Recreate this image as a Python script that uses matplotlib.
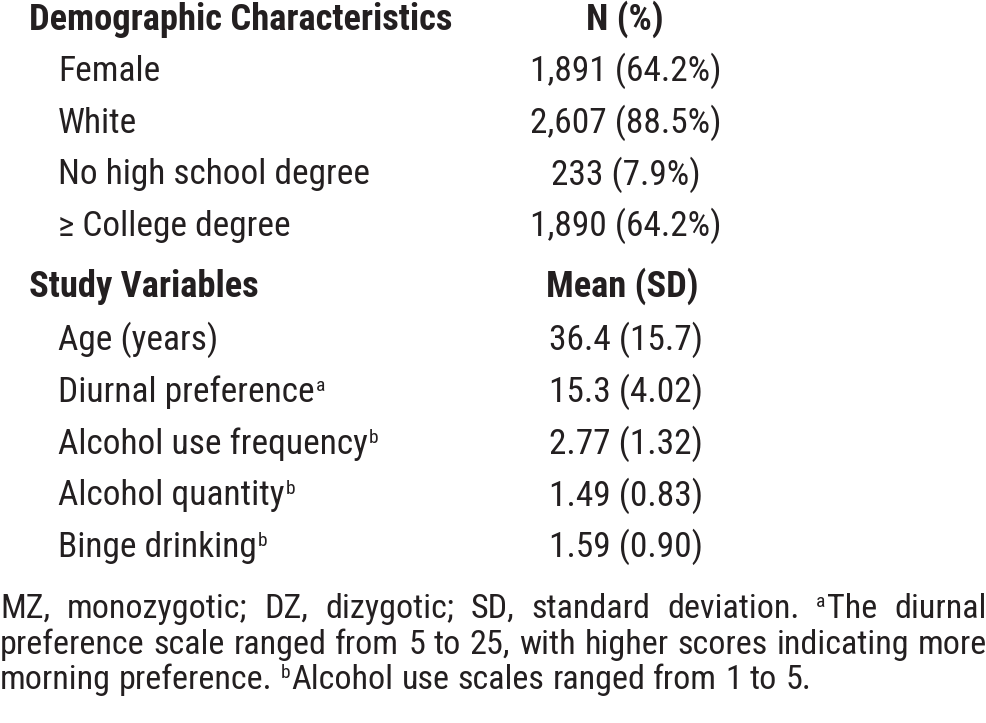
import matplotlib
matplotlib.use('Agg')
import matplotlib.pyplot as plt
from matplotlib import font_manager

W, H = 987, 723
INK = '#231f20'

# narrow grotesque, closest to the Arial Narrow of the original
FONT = 'Liberation Sans'
for name in ['Arial Narrow', 'Liberation Sans Narrow', 'Roboto Condensed']:
    try:
        font_manager.findfont(name, fallback_to_default=False)
        FONT = name
        break
    except ValueError:
        pass

# table content
demo_header = ['Demographic Characteristics', 'N (%)']
demo_labels = ['Female', 'White', 'No high school degree', '≥ College degree']
demo_values = ['1,891 (64.2%)', '2,607 (88.5%)', '233 (7.9%)', '1,890 (64.2%)']

study_header = ['Study Variables', 'Mean (SD)']
study_labels = ['Age (years)', 'Diurnal preference', 'Alcohol use frequency',
                'Alcohol quantity', 'Binge drinking']
study_notes = ['', 'a', 'b', 'b', 'b']
study_values = ['36.4 (15.7)', '15.3 (4.02)', '2.77 (1.32)', '1.49 (0.83)', '1.59 (0.90)']

# '^x' marks a superscript prefix on a word
footnote_lines = [
    'MZ, monozygotic; DZ, dizygotic; SD, standard deviation. ^aThe diurnal',
    'preference scale ranged from 5 to 25, with higher scores indicating more',
    'morning preference. ^bAlcohol use scales ranged from 1 to 5.',
]

FS = 25.5
BOLD_FS = 26.3
SUP = 14
FOOT_FS = 24.6

fig = plt.figure(figsize=(W / 100, H / 100), dpi=100)
fig.patch.set_facecolor('white')
renderer = fig.canvas.get_renderer()


def put(x, ybase, s, size=FS, weight='normal', ha='left'):
    # x, ybase in pixels from the top-left corner, ybase is the baseline
    t = fig.text(x / W, 1 - ybase / H, s, fontsize=size, fontweight=weight,
                 family=FONT, color=INK, ha=ha, va='baseline')
    bb = t.get_window_extent(renderer)
    return bb.x1


def put_sup(x, ybase, s, size=SUP):
    return put(x + 1, ybase - 11, s, size=size)


def measure(word, size):
    t = fig.text(0, 0, word, fontsize=size, family=FONT)
    w = t.get_window_extent(renderer).width
    t.remove()
    return w


col_label = 29
col_item = 58
col_value = 626

# demographic block
put(col_label, 30, demo_header[0], size=BOLD_FS, weight='bold')
put(col_value - 1, 30, demo_header[1], size=BOLD_FS, weight='bold', ha='center')
for i, (lab, val) in enumerate(zip(demo_labels, demo_values)):
    yb = 81 + i * 51.7
    put(col_item, yb, lab)
    put(col_value, yb, val, ha='center')

# study variables block
put(col_label, 297, study_header[0], size=BOLD_FS, weight='bold')
put(col_value - 4, 297, study_header[1], size=BOLD_FS, weight='bold', ha='center')
for i, (lab, note, val) in enumerate(zip(study_labels, study_notes, study_values)):
    yb = 350 + i * 51.8
    x1 = put(col_item, yb, lab)
    if note:
        put_sup(x1, yb, note)
    put(col_value, yb, val, ha='center')

# footnote, justified on all but the last line
foot_base = [618, 654, 689]
left, right = 0, W
space = measure('a a', FOOT_FS) - 2 * measure('a', FOOT_FS)
for li, line in enumerate(footnote_lines):
    words = line.split(' ')
    widths = []
    for w in words:
        if w.startswith('^'):
            widths.append(measure(w[1], SUP) + 2 + measure(w[2:], FOOT_FS))
        else:
            widths.append(measure(w, FOOT_FS))
    if li < len(footnote_lines) - 1:
        gap = (right - left - sum(widths)) / (len(words) - 1)
    else:
        gap = space
    x = left
    for w, wd in zip(words, widths):
        if w.startswith('^'):
            xs = put_sup(x - 1, foot_base[li], w[1])
            put(xs + 1, foot_base[li], w[2:], size=FOOT_FS)
        else:
            put(x, foot_base[li], w, size=FOOT_FS)
        x += wd + gap

fig.savefig('out.png', dpi=100, facecolor='white')
